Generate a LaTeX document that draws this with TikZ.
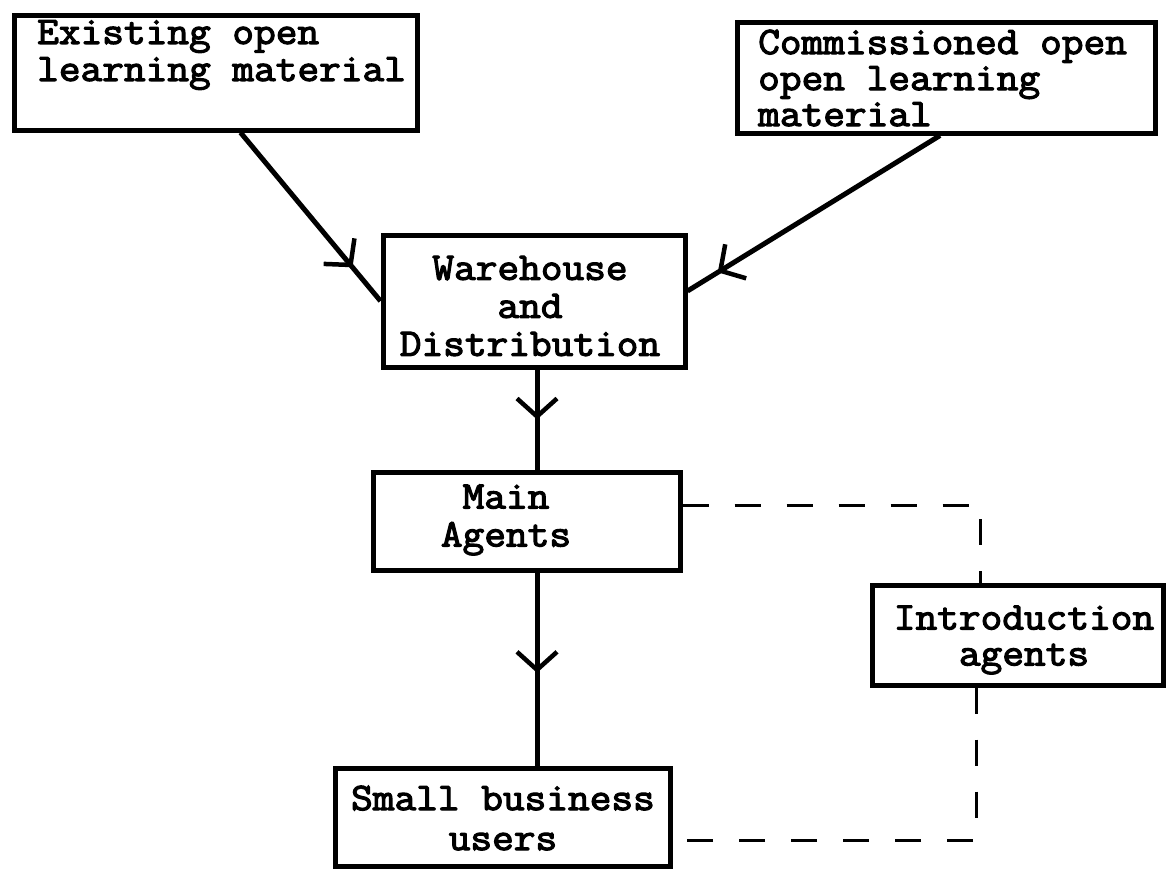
\documentclass[tikz,border=0pt]{standalone}
\usepackage{fontspec}
\usetikzlibrary{arrows.meta,decorations.markings}
\newfontfamily\typewriter{Latin Modern Mono}[AutoFakeBold=3, FakeStretch=1.08]

\tikzset{
  box/.style={draw, rectangle, line width=5pt, inner sep=0pt},
  label text/.style={inner sep=0pt, font=\typewriter\bfseries\fontsize{39}{#1}\selectfont},
  label text/.default=37,
  conn/.style={line width=5pt},
  barb/.tip={Straight Barb[length=18pt, width=40pt, line width=4.5pt]},
  mid arrow/.style={postaction={decorate},
    decoration={markings, mark=at position #1 with {\arrow{barb}}}},
  link/.style={line width=3pt, dash pattern=on 26pt off 26pt},
}

\begin{document}
\begin{tikzpicture}[x=1pt, y=-1pt]
\useasboundingbox (0,0) rectangle (1167,870);

% boxes
\node[box, minimum width=403pt, minimum height=115pt] (exist) at (215.5,72.5) {};
\node[label text=37, anchor=west, align=left] (exist-t) at (37,55)
  {Existing open\\learning material};

\node[box, minimum width=418pt, minimum height=111pt] (comm) at (946,77.5) {};
\node[label text=36, anchor=west, align=left] (comm-t) at (758,78)
  {Commissioned open\\open learning\\material};

\node[box, minimum width=302pt, minimum height=132pt] (ware) at (534,301) {};
\node[label text=38, align=center] (ware-t) at (530,306)
  {Warehouse\\and\\Distribution};

\node[box, minimum width=307pt, minimum height=98pt] (main) at (526.5,521) {};
\node[label text=38, align=center] (main-t) at (506,520) {Main\\Agents};

\node[box, minimum width=291pt, minimum height=100pt] (intro) at (1017.5,635) {};
\node[label text=36, align=center] (intro-t) at (1024,640) {Introduction\\agents};

\node[box, minimum width=335pt, minimum height=98pt] (small) at (502.5,817) {};
\node[label text=40, align=center] (small-t) at (503,818) {Small business\\users};

% supply flow
\draw[conn, mid arrow=0.80] ([xshift=25pt]exist.south) -- (ware.west);
\draw[conn, mid arrow=0.88] ([xshift=-6pt]comm.south) -- ([yshift=10pt]ware.east);
\draw[conn, mid arrow=0.5] ([xshift=3pt]ware.south) -- ([xshift=3pt]ware.south |- main.north);
\draw[conn, mid arrow=0.52] ([xshift=3pt]ware.south |- main.south) -- ([xshift=3pt]ware.south |- small.north);

% introduction agents links
\draw[link] ([yshift=16pt]main.east) -| ([xshift=-37pt]intro.north);
\draw[link] ([xshift=-41pt]intro.south) |- ([yshift=-23pt]small.east);
\end{tikzpicture}
\end{document}
